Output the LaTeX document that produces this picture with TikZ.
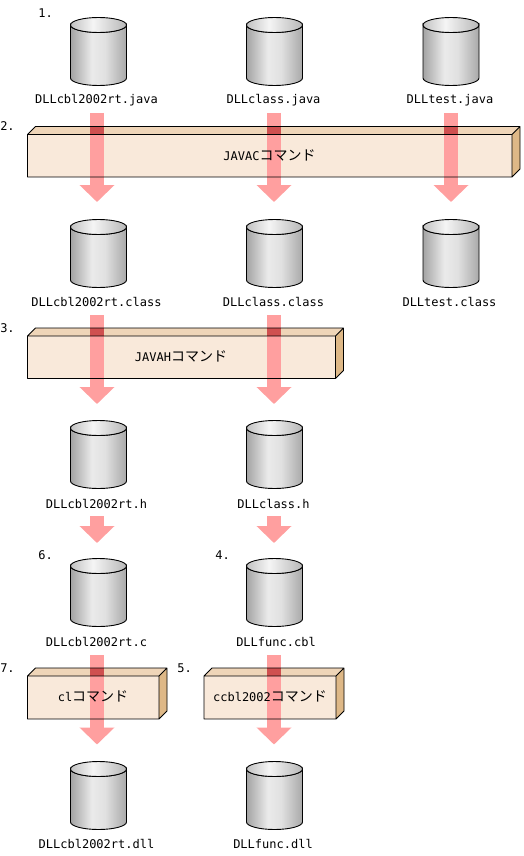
\documentclass[tikz,border=0pt]{standalone}
\usepackage{fontspec}
\setmonofont{DejaVu Sans Mono}
\newfontfamily\cjk{Noto Sans CJK JP}
\usetikzlibrary{arrows.meta}
\definecolor{frontcol}{HTML}{F9E9DA}
\definecolor{topcol}{HTML}{EFD5B8}
\definecolor{sidecol}{HTML}{DEB887}
\definecolor{arrowcol}{HTML}{FF9F9F}
\definecolor{bandcol}{HTML}{CF5050}
\pgfdeclarehorizontalshading{cylbody}{100bp}{color(0bp)=(black!36); color(25bp)=(black!36); color(44bp)=(black!8); color(56bp)=(black!12); color(75bp)=(black!34); color(100bp)=(black!34)}
\pgfdeclarehorizontalshading{cyltop}{100bp}{color(0bp)=(black!24); color(25bp)=(black!24); color(45bp)=(black!4); color(75bp)=(black!28); color(100bp)=(black!28)}
\newcommand{\kana}[1]{{\cjk\fontsize{14}{14}\selectfont #1}}
\tikzset{
  fname/.style={font=\ttfamily\fontsize{12}{12}\selectfont,inner sep=0pt},
  stepno/.style={font=\ttfamily\fontsize{12}{12}\selectfont,inner sep=0pt},
  cmdname/.style={font=\ttfamily\fontsize{12}{12}\selectfont,inner sep=0pt},
  flow/.style={arrowcol,line width=14pt,-{Triangle[width=34pt,length=17pt]}},
  pics/dbcyl/.style={code={
    \path[draw=black,line width=0.9pt,shading=cylbody] (-28,8) -- (-28,61)
      arc[start angle=180,end angle=0,x radius=28,y radius=7.5] -- (28,8)
      arc[start angle=0,end angle=180,x radius=28,y radius=7.5] -- cycle;
    \path[draw=black,line width=0.9pt,shading=cyltop] (0,8) ellipse[x radius=28,y radius=7.5];
  }}
}
\newcommand{\cmdbox}[4]{% x0, x1, top, bottom
  \fill[topcol] (#1,#3) -- (#1+8,#3-8) -- (#2+8,#3-8) -- (#2,#3) -- cycle;
  \fill[sidecol] (#2,#3) -- (#2+8,#3-8) -- (#2+8,#4-8) -- (#2,#4) -- cycle;
  \fill[frontcol] (#1,#3) rectangle (#2,#4);
}
\newcommand{\cmdedge}[4]{% x0, x1, top, bottom
  \draw[line width=0.9pt,line join=round] (#1,#3) -- (#1+8,#3-8) -- (#2+8,#3-8) -- (#2+8,#4-8) -- (#2,#4) -- (#1,#4) -- cycle (#1,#3) -- (#2,#3) -- (#2,#4) (#2,#3) -- (#2+8,#3-8);
}
\newcommand{\band}[2]{\fill[bandcol] (#1-7,#2-8) rectangle (#1+7,#2);}
\begin{document}
\begin{tikzpicture}[x=1pt,y=-1pt]
\useasboundingbox (0,0) rectangle (523,856);
% boxes under the arrows
\cmdbox{27.5}{512}{134.5}{177}
\cmdbox{27.5}{335.5}{336}{378.5}
\cmdbox{27.5}{159}{676}{719}
\cmdbox{204}{336}{676}{719}
% cylinders
\pic at (98.5,17) {dbcyl};
\pic at (274.5,17) {dbcyl};
\pic at (451,17) {dbcyl};
\pic at (98.5,219) {dbcyl};
\pic at (274.5,219) {dbcyl};
\pic at (451,219) {dbcyl};
\pic at (98.5,420) {dbcyl};
\pic at (274.5,420) {dbcyl};
\pic at (98.5,558) {dbcyl};
\pic at (274.5,558) {dbcyl};
\pic at (98.5,761) {dbcyl};
\pic at (274.5,761) {dbcyl};
% file names
\node[fname] (java1) at (96.5,100) {DLLcbl2002rt.java};
\node[fname] (java2) at (273.5,100) {DLLclass.java};
\node[fname] (java3) at (450,100) {DLLtest.java};
\node[fname] (class1) at (96.5,301.5) {DLLcbl2002rt.class};
\node[fname] (class2) at (273.5,301.5) {DLLclass.class};
\node[fname] (class3) at (449.5,301.5) {DLLtest.class};
\node[fname] (hdr1) at (96.5,503.5) {DLLcbl2002rt.h};
\node[fname] (hdr2) at (273.5,503.5) {DLLclass.h};
\node[fname] (csrc) at (96.5,642) {DLLcbl2002rt.c};
\node[fname] (cobsrc) at (276,642) {DLLfunc.cbl};
\node[fname] (dll1) at (96.5,843.5) {DLLcbl2002rt.dll};
\node[fname] (dll2) at (273,843.5) {DLLfunc.dll};
% arrow ends
\coordinate (j1) at (97,113); \coordinate (c1) at (97,202);
\coordinate (j2) at (274,113); \coordinate (c2) at (274,202);
\coordinate (j3) at (451,113); \coordinate (c3) at (451,202);
\coordinate (k1) at (97,315); \coordinate (h1) at (97,404);
\coordinate (k2) at (274,315); \coordinate (h2) at (274,404);
\coordinate (p1) at (97,516); \coordinate (s1) at (97,543);
\coordinate (p2) at (274,516); \coordinate (s2) at (274,543);
\coordinate (q1) at (97,655); \coordinate (d1) at (97,744.5);
\coordinate (q2) at (274,655); \coordinate (d2) at (274,744.5);
\draw[flow] (j1) -- (c1);
\draw[flow] (j2) -- (c2);
\draw[flow] (j3) -- (c3);
\draw[flow] (k1) -- (h1);
\draw[flow] (k2) -- (h2);
\draw[flow] (p1) -- (s1);
\draw[flow] (p2) -- (s2);
\draw[flow] (q1) -- (d1);
\draw[flow] (q2) -- (d2);
\band{97}{134.5} \band{274}{134.5} \band{451}{134.5}
\band{97}{336} \band{274}{336}
\band{97}{676} \band{274}{676}
\cmdedge{27.5}{512}{134.5}{177}
\cmdedge{27.5}{335.5}{336}{378.5}
\cmdedge{27.5}{159}{676}{719}
\cmdedge{204}{336}{676}{719}
% commands
\node[cmdname] (javac) at (269.5,155) {JAVAC\kana{コマンド}};
\node[cmdname] (javah) at (181,356) {JAVAH\kana{コマンド}};
\node[cmdname] (cl) at (93,696) {cl\kana{コマンド}};
\node[cmdname] (ccbl) at (270,696) {ccbl2002\kana{コマンド}};
% step numbers
\node[stepno] (st1) at (45.5,13) {1.};
\node[stepno] (st2) at (7.5,126) {2.};
\node[stepno] (st3) at (7.5,328) {3.};
\node[stepno] (st6) at (45.5,555) {6.};
\node[stepno] (st4) at (222.5,555) {4.};
\node[stepno] (st7) at (7.5,668) {7.};
\node[stepno] (st5) at (184.5,668) {5.};
\end{tikzpicture}
\end{document}
